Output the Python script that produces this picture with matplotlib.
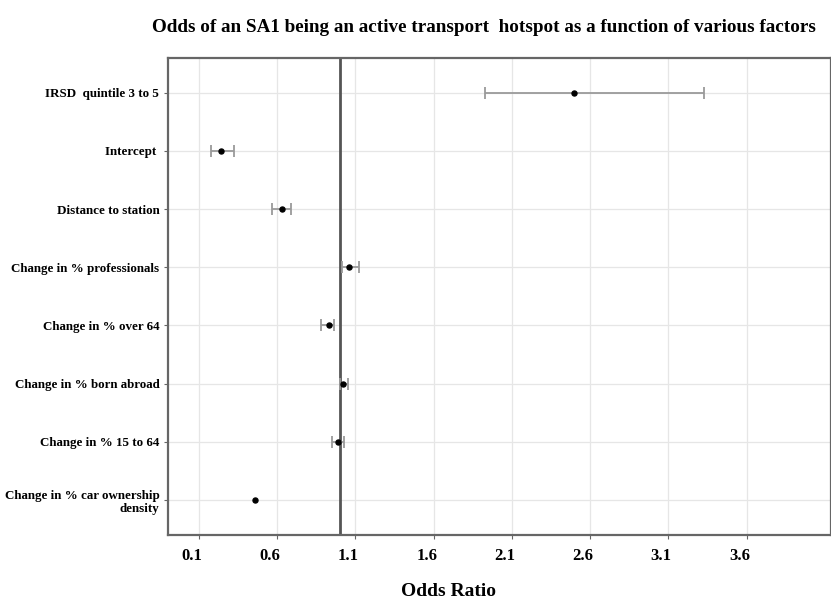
import matplotlib
matplotlib.use("Agg")
import matplotlib.pyplot as plt
from matplotlib.transforms import ScaledTranslation

# factors, top to bottom
factors = ['IRSD  quintile 3 to 5', 'Intercept ', 'Distance to station',
           'Change in % professionals', 'Change in % over 64',
           'Change in % born abroad', 'Change in % 15 to 64',
           'Change in % car ownership\ndensity']
odds = [2.50, 0.24, 0.63, 1.06, 0.93, 1.02, 0.99, 0.46]
ci_low = [1.93, 0.18, 0.565, 1.015, 0.88, 1.00, 0.95, 0.45]
ci_high = [3.33, 0.325, 0.685, 1.12, 0.965, 1.055, 1.025, 0.47]
xticks = [0.1, 0.6, 1.1, 1.6, 2.1, 2.6, 3.1, 3.6]

plt.rcParams['font.family'] = 'Liberation Serif'
plt.rcParams['font.weight'] = 'bold'

fig = plt.figure(figsize=(8.31, 5.99), dpi=100)
ax = fig.add_axes([0.2018, 1 - 535 / 599, 1 - 0.2018, (535 - 57.7) / 599])

n = len(factors)
ypos = list(range(n - 1, -1, -1))

ax.set_xlim(-0.1, 4.14)
ax.set_ylim(-0.6, n - 1 + 0.6)
ax.set_xticks(xticks)
ax.set_yticks(ypos)
ax.set_yticklabels(factors, fontsize=9.4, fontweight='bold')
ax.grid(True, color='#e6e6e6', linewidth=0.9)
ax.set_axisbelow(True)

ax.axvline(1.0, color='#555555', linewidth=2, zorder=2)

for y, o, lo, hi in zip(ypos, odds, ci_low, ci_high):
    if hi - lo > 0.03:
        ax.errorbar(o, y, xerr=[[o - lo], [hi - o]], fmt='none', ecolor='#9a9a9a',
                    elinewidth=1.3, capsize=4, capthick=1.3, zorder=3)
    ax.plot(o, y, 'o', color='black', markersize=3.6, zorder=4)

for s in ax.spines.values():
    s.set_color('#666666')
    s.set_linewidth(1.6)
ax.tick_params(axis='both', colors='#666666', length=3, width=0.8)
ax.tick_params(axis='both', labelcolor='black')
ax.tick_params(axis='x', labelsize=12, pad=6)
ax.tick_params(axis='y', pad=3)
for lab in ax.get_xticklabels():
    lab.set_fontweight('bold')
    lab.set_transform(lab.get_transform() + ScaledTranslation(-0.07, 0, fig.dpi_scale_trans))

ax.set_xlabel('Odds Ratio', fontsize=14, fontweight='bold')
ax.xaxis.set_label_coords(0.4226, -0.1)

fig.text(0.582, 1 - 28 / 599, 'Odds of an SA1 being an active transport  hotspot as a function of various factors',
         ha='center', va='center', fontsize=13.8, fontweight='bold')

fig.savefig('out.png', dpi=100)
